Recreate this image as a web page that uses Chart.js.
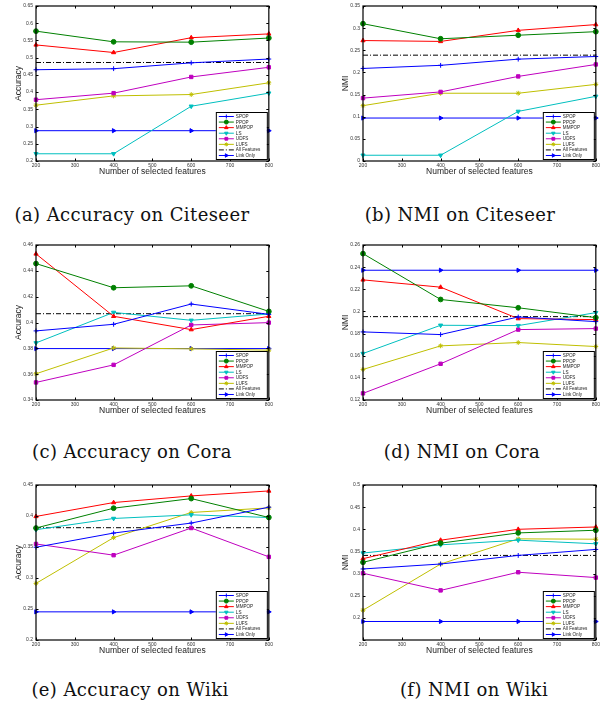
<!DOCTYPE html>
<html>
<head>
<meta charset="utf-8">
<script src="https://cdn.jsdelivr.net/npm/chart.js@4.4.1/dist/chart.umd.min.js"></script>
<style>
  body { margin: 0; background: #fff; width: 605px; height: 706px; position: relative; overflow: hidden; }
  canvas { position: absolute; }
  .cap { position: absolute; width: 300px; text-align: center; font-family: "DejaVu Serif", serif; font-size: 18px; letter-spacing: 0.4px; line-height: 22px; color: #111; }
</style>
</head>
<body>
<canvas id="citeseerAcc" width="275" height="182" style="left:0px;top:0px"></canvas>
<canvas id="citeseerNmi" width="275" height="182" style="left:327px;top:0px"></canvas>
<canvas id="coraAcc" width="275" height="182" style="left:0px;top:239px"></canvas>
<canvas id="coraNmi" width="275" height="182" style="left:327px;top:239px"></canvas>
<canvas id="wikiAcc" width="275" height="182" style="left:0px;top:479px"></canvas>
<canvas id="wikiNmi" width="275" height="182" style="left:327px;top:479px"></canvas>

<div class="cap" style="left:-18px;top:204px">(a) Accuracy on Citeseer</div>
<div class="cap" style="left:310px;top:204px">(b) NMI on Citeseer</div>
<div class="cap" style="left:-18px;top:441px">(c) Accuracy on Cora</div>
<div class="cap" style="left:312px;top:441px">(d) NMI on Cora</div>
<div class="cap" style="left:-20px;top:679px">(e) Accuracy on Wiki</div>
<div class="cap" style="left:324px;top:679px">(f) NMI on Wiki</div>

<script>
const features = [200, 400, 600, 800];
const methods = ['SPOP', 'PPOP', 'MMPOP', 'LS', 'UDFS', 'LUFS', 'All Features', 'Link Only'];

// one row per method, same order as `methods`
const citeseerAccuracy = [
  [0.465, 0.468, 0.485, 0.496],
  [0.577, 0.546, 0.545, 0.557],
  [0.537, 0.515, 0.558, 0.569],
  [0.221, 0.221, 0.359, 0.397],
  [0.378, 0.397, 0.444, 0.472],
  [0.362, 0.389, 0.393, 0.427],
  [0.486, 0.486, 0.486, 0.486],
  [0.288, 0.288, 0.288, 0.288]
];
const citeseerNmi = [
  [0.209, 0.216, 0.230, 0.236],
  [0.310, 0.276, 0.284, 0.292],
  [0.272, 0.270, 0.295, 0.308],
  [0.013, 0.013, 0.112, 0.146],
  [0.142, 0.156, 0.191, 0.218],
  [0.125, 0.153, 0.153, 0.173],
  [0.239, 0.239, 0.239, 0.239],
  [0.097, 0.097, 0.097, 0.097]
];
const coraAccuracy = [
  [0.3935, 0.3986, 0.4143, 0.4063],
  [0.4456, 0.4269, 0.4284, 0.4086],
  [0.4531, 0.4048, 0.3945, 0.4048],
  [0.3842, 0.4078, 0.4017, 0.4066],
  [0.3536, 0.3672, 0.3981, 0.3999],
  [0.3603, 0.3803, 0.3796, 0.3786],
  [0.4068, 0.4068, 0.4068, 0.4068],
  [0.3798, 0.3798, 0.3798, 0.3798]
];
const coraNmi = [
  [0.1815, 0.1791, 0.1950, 0.1908],
  [0.2522, 0.2108, 0.2033, 0.1944],
  [0.2285, 0.2219, 0.1935, 0.1926],
  [0.1620, 0.1875, 0.1872, 0.1989],
  [0.1260, 0.1527, 0.1836, 0.1845],
  [0.1476, 0.1689, 0.1719, 0.1683],
  [0.1953, 0.1953, 0.1953, 0.1953],
  [0.2372, 0.2372, 0.2372, 0.2372]
];
const wikiAccuracy = [
  [0.3496, 0.3725, 0.3886, 0.4142],
  [0.3806, 0.4126, 0.4281, 0.3976],
  [0.3993, 0.4217, 0.4324, 0.4404],
  [0.3779, 0.3960, 0.4019, 0.3976],
  [0.3549, 0.3368, 0.3806, 0.3341],
  [0.2913, 0.3651, 0.4057, 0.4131],
  [0.3811, 0.3811, 0.3811, 0.3811],
  [0.2454, 0.2454, 0.2454, 0.2454]
];
const wikiNmi = [
  [0.3104, 0.3216, 0.3410, 0.3545],
  [0.3254, 0.3687, 0.3918, 0.3978],
  [0.3336, 0.3754, 0.4000, 0.4052],
  [0.3463, 0.3649, 0.3754, 0.3672],
  [0.3007, 0.2620, 0.3030, 0.2910],
  [0.2172, 0.3216, 0.3784, 0.3776],
  [0.3410, 0.3410, 0.3410, 0.3410],
  [0.1918, 0.1918, 0.1918, 0.1918]
];

// y axis: [min, max, step]
const citeseerAccAxis = [0.2, 0.65, 0.05];
const citeseerNmiAxis = [0, 0.35, 0.05];
const coraAccAxis = [0.34, 0.46, 0.02];
const coraNmiAxis = [0.12, 0.26, 0.02];
const wikiAccAxis = [0.2, 0.45, 0.05];
const wikiNmiAxis = [0.15, 0.5, 0.05];

const lineColors = ['#0000ff', '#008000', '#ff0000', '#00bfbf', '#bf00bf', '#bfbf00', '#000000', '#0000ff'];
const markers = ['cross', 'circle', 'triangle', 'triangle', 'rect', 'star', false, 'triangle'];
const markerTurn = [0, 0, 0, 180, 0, 0, 0, 90];

Chart.defaults.font.family = '"Liberation Sans", Arial, sans-serif';
Chart.defaults.color = '#333';

// matlab-like axes box with inward ticks
const boxPlugin = {
  id: 'box',
  afterDatasetsDraw(chart) {
    const { ctx, chartArea: a, scales } = chart;
    ctx.save();
    ctx.strokeStyle = '#000';
    ctx.lineWidth = 1.2;
    ctx.strokeRect(a.left, a.top, a.width, a.height);
    ctx.lineWidth = 1;
    ctx.beginPath();
    scales.x.ticks.forEach(t => {
      const px = Math.round(scales.x.getPixelForValue(t.value)) + 0.5;
      ctx.moveTo(px, a.bottom); ctx.lineTo(px, a.bottom - 2.5);
      ctx.moveTo(px, a.top); ctx.lineTo(px, a.top + 2.5);
    });
    scales.y.ticks.forEach(t => {
      const py = Math.round(scales.y.getPixelForValue(t.value)) + 0.5;
      ctx.moveTo(a.left, py); ctx.lineTo(a.left + 2.5, py);
      ctx.moveTo(a.right, py); ctx.lineTo(a.right - 2.5, py);
    });
    ctx.stroke();
    ctx.restore();
  }
};

// legend box in the lower right corner of the plot
const legendPlugin = {
  id: 'insideLegend',
  afterDraw(chart) {
    const { ctx, chartArea: a } = chart;
    const w = 51, h = 47;
    const x0 = a.right - 2 - w, y0 = a.bottom - 2 - h;
    ctx.save();
    ctx.fillStyle = '#fff';
    ctx.fillRect(x0, y0, w, h);
    ctx.strokeStyle = '#000';
    ctx.lineWidth = 1;
    ctx.strokeRect(x0 + 0.5, y0 + 0.5, w, h);
    ctx.font = '4.6px "Liberation Sans", Arial, sans-serif';
    ctx.textBaseline = 'middle';
    chart.data.datasets.forEach((ds, i) => {
      const y = y0 + 4.5 + i * 5.57;
      ctx.strokeStyle = ds.borderColor;
      ctx.lineWidth = 1;
      ctx.setLineDash(ds.borderDash || []);
      ctx.beginPath();
      ctx.moveTo(x0 + 3, y); ctx.lineTo(x0 + 18, y);
      ctx.stroke();
      ctx.setLineDash([]);
      if (ds.pointStyle) {
        ctx.fillStyle = ds.borderColor;
        Chart.helpers.drawPoint(ctx, { pointStyle: ds.pointStyle, rotation: ds.pointRotation, radius: 2, borderWidth: 1 }, x0 + 10.5, y);
      }
      ctx.fillStyle = '#222';
      ctx.fillText(ds.label, x0 + 20, y + 0.3);
    });
    ctx.restore();
  }
};

function drawPanel(id, rows, yTitle, axis, hideMin) {
  const [yMin, yMax, yStep] = axis;
  const datasets = methods.map((name, i) => ({
    label: name,
    data: features.map((f, j) => ({ x: f, y: rows[i][j] })),
    borderColor: lineColors[i],
    backgroundColor: lineColors[i],
    borderWidth: 1,
    borderDash: name === 'All Features' ? [5, 2, 1, 2] : [],
    pointStyle: markers[i],
    pointRotation: markerTurn[i],
    pointRadius: markers[i] ? 2.4 : 0,
    pointBorderWidth: 1,
    pointBackgroundColor: lineColors[i],
    pointBorderColor: lineColors[i],
    tension: 0,
    clip: false
  }));

  new Chart(document.getElementById(id), {
    type: 'line',
    data: { datasets },
    options: {
      responsive: false,
      animation: false,
      layout: { padding: { left: 0, right: 5, top: 5, bottom: 5 } },
      plugins: { legend: { display: false }, tooltip: { enabled: false } },
      scales: {
        x: {
          type: 'linear',
          min: 200, max: 800,
          grid: { display: false, drawTicks: false },
          border: { display: false },
          ticks: { stepSize: 100, font: { size: 5 }, padding: 2, maxRotation: 0, callback: v => String(v) },
          title: { display: true, text: 'Number of selected features', font: { size: 8.5 }, color: '#222', padding: 0 },
          afterFit: s => { s.height = 16; }
        },
        y: {
          min: yMin, max: yMax,
          grid: { display: false, drawTicks: false },
          border: { display: false },
          ticks: {
            stepSize: yStep, font: { size: 5 }, padding: 3,
            callback: v => (hideMin && Math.abs(v - yMin) < 1e-9) ? '' : String(+v.toFixed(2))
          },
          title: { display: true, text: yTitle, font: { size: 8.5 }, color: '#222', padding: { top: 14, bottom: 0 } },
          afterFit: s => { s.width = 36; }
        }
      }
    },
    plugins: [boxPlugin, legendPlugin]
  });
}

drawPanel('citeseerAcc', citeseerAccuracy, 'Accuracy', citeseerAccAxis, false);
drawPanel('citeseerNmi', citeseerNmi, 'NMI', citeseerNmiAxis, false);
drawPanel('coraAcc', coraAccuracy, 'Accuracy', coraAccAxis, false);
drawPanel('coraNmi', coraNmi, 'NMI', coraNmiAxis, false);
drawPanel('wikiAcc', wikiAccuracy, 'Accuracy', wikiAccAxis, false);
drawPanel('wikiNmi', wikiNmi, 'NMI', wikiNmiAxis, true);
</script>
</body>
</html>
